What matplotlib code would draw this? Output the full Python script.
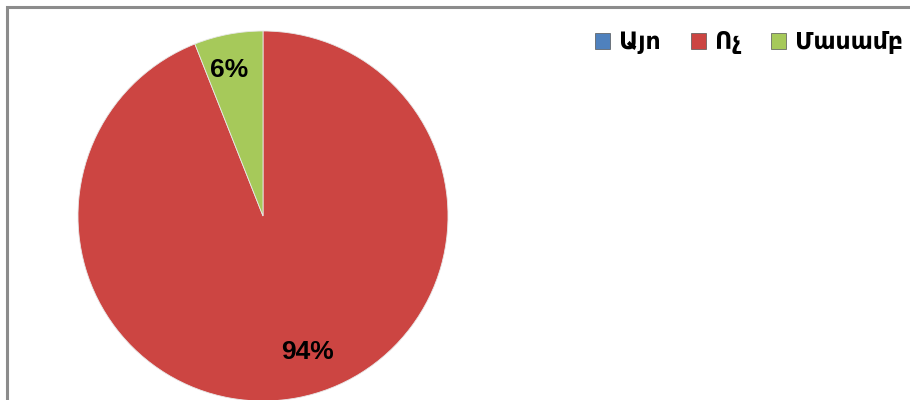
import matplotlib.pyplot as plt
from matplotlib.patches import Rectangle, Patch

labels = ['Այո', 'Ոչ', 'Մասամբ']
values = [0, 94, 6]
colors = ['#4F81BD', '#CC4542', '#A6C95A']

fig = plt.figure(figsize=(9.1, 4.0), dpi=100)

# chart frame (cut off on the right and bottom)
fig.patches.append(Rectangle((6.5 / 910, -0.1), 1.2, 1.1 - 6.5 / 400,
                             transform=fig.transFigure, fill=False,
                             edgecolor='#8c8c8c', linewidth=2.2))

ax = fig.add_axes([78 / 910, -1 / 400, 370 / 910, 370 / 400])
wedges, texts, autotexts = ax.pie(
    values, colors=colors, startangle=90, counterclock=False,
    autopct=lambda p: f'{p:.0f}%' if p > 0 else '', pctdistance=0.8,
    wedgeprops=dict(linewidth=0.6, edgecolor='#e8e8e8'),
    textprops=dict(family='Liberation Sans', fontsize=19, fontweight='bold'))
ax.set_xlim(-1, 1)
ax.set_ylim(-1, 1)
ax.set_aspect('equal')

# label placement as in the reference
autotexts[1].set_position((0.243, -0.735))
autotexts[2].set_position((-0.184, 0.789))

handles = [Patch(facecolor=c, edgecolor='#555555', linewidth=0.5) for c in colors]
fig.legend(handles, labels, loc='center left', bbox_to_anchor=(595 / 910, 1 - 42 / 400),
           ncol=3, frameon=False, handlelength=0.65, handleheight=0.65,
           handletextpad=0.35, columnspacing=1.3, borderpad=0, borderaxespad=0,
           prop=dict(family='DejaVu Sans', size=17, weight='bold'))

fig.savefig('out.png', dpi=100)
